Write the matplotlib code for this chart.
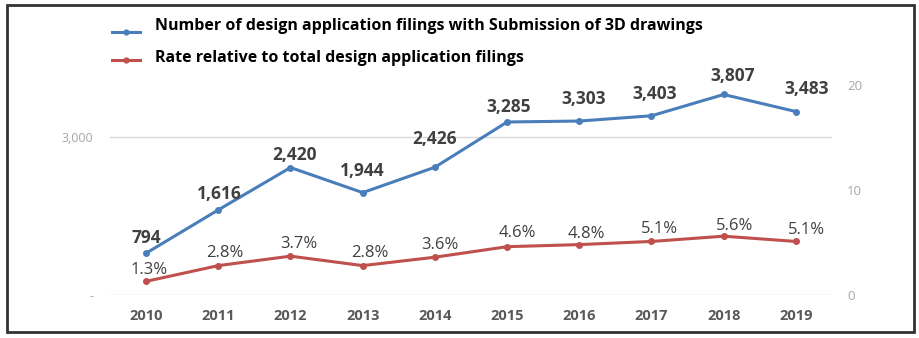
import matplotlib
matplotlib.use("Agg")
import matplotlib.pyplot as plt
from matplotlib.patches import Rectangle
from matplotlib.lines import Line2D

plt.rcParams['font.family'] = ['Open Sans', 'DejaVu Sans']

# Data
years = ["2010", "2011", "2012", "2013", "2014", "2015", "2016", "2017", "2018", "2019"]
filings_3d = [794, 1616, 2420, 1944, 2426, 3285, 3303, 3403, 3807, 3483]
rate_pct = [1.3, 2.8, 3.7, 2.8, 3.6, 4.6, 4.8, 5.1, 5.6, 5.1]
left_ticks = [0, 3000]
left_ticklabels = ["-", "3,000"]
right_ticks = [0, 10, 20]

series_names = ["Number of design application filings with Submission of 3D drawings",
                "Rate relative to total design application filings"]

# Label offsets in pixels (dx, dy)
filing_offsets = [(0, 15), (1, 16), (4, 13), (0, 22), (0, 28),
                  (2, 15), (4, 22), (3, 22), (9, 18), (11, 23)]
rate_offsets = [(3, 11), (7, 13), (8, 12), (7, 13), (5, 12),
                (10, 14), (7, 11), (8, 12), (11, 10), (11, 11)]

W, H = 920, 338
fig = plt.figure(figsize=(W / 100, H / 100), dpi=100)
fig.patch.set_facecolor("white")

def fx(px):
    return px / W

def fy(py):
    return 1 - py / H

ax_left, ax_right_px, ax_bottom, ax_top = 110, 832, 295, 30
ax = fig.add_axes([fx(ax_left), fy(ax_bottom),
                   (ax_right_px - ax_left) / W, (ax_bottom - ax_top) / H])
ax2 = ax.twinx()

blue = "#4a7ebb"
red = "#c0504d"
label_color = "#404040"

x = list(range(len(years)))
ax.plot(x, filings_3d, color=blue, lw=2.2, marker="o", ms=4, zorder=3)
ax2.plot(x, rate_pct, color=red, lw=2.2, marker="o", ms=4, zorder=3)

px_per_unit_left = 158 / 3000
px_per_unit_right = 10.5
ax.set_ylim(0, (ax_bottom - ax_top) / px_per_unit_left)
ax2.set_ylim(0, (ax_bottom - ax_top) / px_per_unit_right)
ax.set_xlim(-0.5, len(years) - 0.5)

ax.set_yticks(left_ticks)
ax.set_yticklabels(left_ticklabels)
ax2.set_yticks(right_ticks)
ax.set_xticks(x)
ax.set_xticklabels(years)

for a in (ax, ax2):
    for s in a.spines.values():
        s.set_visible(False)
    a.patch.set_visible(False)

ax.grid(axis="y", color="#d9d9d9", lw=1)
ax.set_axisbelow(True)
ax.tick_params(axis="y", length=0, pad=12, labelsize=9, labelcolor="#a6a6a6")
ax2.tick_params(axis="y", length=0, pad=11, labelsize=9.5, labelcolor="#a6a6a6")
ax.tick_params(axis="x", length=0, pad=10, labelsize=10.5, labelcolor="#595959")
for t in ax.get_xticklabels():
    t.set_fontweight("bold")

for i, (v, (dx, dy)) in enumerate(zip(filings_3d, filing_offsets)):
    ax.annotate(f"{v:,}", (i, v), xytext=(dx, dy), textcoords="offset pixels",
                ha="center", va="center", fontsize=12.5, fontweight="bold",
                color=label_color, zorder=5)

for i, (v, (dx, dy)) in enumerate(zip(rate_pct, rate_offsets)):
    ax2.annotate(f"{v:.1f}%", (i, v), xytext=(dx, dy), textcoords="offset pixels",
                 ha="center", va="center", fontsize=12, color="#404040", zorder=5)

# Legend drawn in figure coordinates
for (ly, ty), col, name in zip([(32, 26), (60, 58)], [blue, red], series_names):
    fig.add_artist(Line2D([fx(112), fx(140)], [fy(ly), fy(ly)], color=col, lw=2.2,
                          transform=fig.transFigure))
    fig.add_artist(Line2D([fx(126)], [fy(ly)], color=col, marker="o", ms=3.5,
                          transform=fig.transFigure))
    fig.text(fx(155), fy(ty), name, ha="left", va="center", fontsize=11.5,
             fontweight="bold", color="black")

# Outer frame
fig.add_artist(Rectangle((fx(7), fy(332)), fx(914) - fx(7), fy(5) - fy(332),
                         transform=fig.transFigure, fill=False,
                         edgecolor="#333333", lw=2))

fig.savefig("out.png", dpi=100)
